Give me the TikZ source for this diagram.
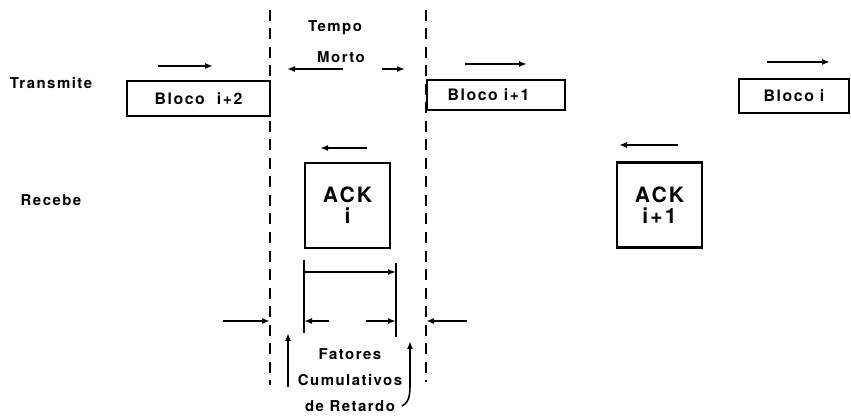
\documentclass[tikz,border=0pt]{standalone}
\usepackage{fontspec}
\setmainfont{TeX Gyre Heros}
\newfontfamily\wide[LetterSpace=10]{TeX Gyre Heros}
\usetikzlibrary{arrows.meta, positioning}

\begin{document}
\begin{tikzpicture}[x=0.2mm, y=-0.2mm,
    block/.style={rectangle, draw, line width=1.4pt, minimum width=#1, minimum height=6.6mm, inner sep=0pt, font=\wide\bfseries\fontsize{9}{11}\selectfont},
    ack/.style={rectangle, draw, line width=1.3pt, minimum size=17mm, align=center, font=\wide\bfseries\fontsize{12}{14}\selectfont},
    tag/.style={inner sep=0pt, font=\wide\bfseries\fontsize{8.5}{10}\selectfont},
    arrow/.style={-{Latex[length=1.6mm, width=1.2mm]}, line width=0.9pt},
    limit/.style={dash pattern=on 2.2mm off 1.5mm, line width=1pt},
    tick/.style={line width=1pt}
]
\useasboundingbox (0,0) rectangle (851,418);

% Dead-time limits
\coordinate (limA top) at (270,10);
\coordinate (limA bot) at (270,385);
\coordinate (limB top) at (426,10);
\coordinate (limB bot) at (426,382);
\draw[limit] (limA top) -- (limA bot);
\draw[limit] (limB top) -- (limB bot);

% Row labels
\node[tag] (tx) at (51,83) {Transmite};
\node[tag] (rx) at (51,200) {Recebe};

% Transmitted blocks
\node[block=28.6mm, minimum height=7mm] (blk2) at (198.5,98.5) {Bloco\ \ i+2};
\node[block=27.6mm, minimum height=6mm] (blk1) at (496,95) {Bloco i+1\hspace*{3mm}};
\node[block=22mm, minimum height=6.8mm] (blk0) at (794,96) {Bloco i};

\coordinate (blk2 s) at (158,66);  \coordinate (blk2 e) at (213,66);
\coordinate (blk1 s) at (465,64);  \coordinate (blk1 e) at (527,64);
\coordinate (blk0 s) at (767,62);  \coordinate (blk0 e) at (830,62);
\draw[arrow] (blk2 s) -- (blk2 e);
\draw[arrow] (blk1 s) -- (blk1 e);
\draw[arrow] (blk0 s) -- (blk0 e);

% Acknowledgements
\node[ack] (ack0) at (347.5,205.5) {ACK\\[-2pt]i};
\node[ack] (ack1) at (659.5,205) {ACK\\[-2pt]i+1};

\coordinate (ack0 s) at (367,148); \coordinate (ack0 e) at (320,148);
\coordinate (ack1 s) at (678,145); \coordinate (ack1 e) at (619,145);
\draw[arrow] (ack0 s) -- (ack0 e);
\draw[arrow] (ack1 s) -- (ack1 e);

% Tempo morto
\node[tag] (tempo) at (335,28) {Tempo};
\node[tag] (morto) at (341,57) {Morto};
\coordinate (dead l) at (343,69); \coordinate (dead le) at (287,69);
\coordinate (dead r) at (382,69); \coordinate (dead re) at (405,69);
\draw[arrow] (dead l) -- (dead le);
\draw[arrow] (dead r) -- (dead re);

% Dimension of the ACK
\coordinate (dimL top) at (304,260); \coordinate (dimL bot) at (304,333);
\coordinate (dimR top) at (396,263); \coordinate (dimR bot) at (396,337);
\draw[tick] (dimL top) -- (dimL bot);
\draw[tick] (dimR top) -- (dimR bot);
\draw[arrow] (304,272) -- (396,272);
\coordinate (inL) at (329,321); \coordinate (inR) at (366,321);
\draw[arrow] (inL) -- (304,321);
\draw[arrow] (inR) -- (396,321);

% Arrows onto the limits
\coordinate (outL) at (223,321); \coordinate (outR) at (467,321);
\draw[arrow] (outL) -- (limA top |- outL);
\draw[arrow] (outR) -- (limB top |- outR);

% Cumulative delay factors
\node[tag, align=center, font=\wide\bfseries\fontsize{8.5}{15}\selectfont] (delay) at (350,380) {Fatores\\Cumulativos\\de Retardo};
\coordinate (upL) at (288,387); \coordinate (upLe) at (288,333);
\draw[arrow] (upL) -- (upLe);
\coordinate (upR) at (402,406); \coordinate (upRe) at (410,341);
\draw[arrow] (upR) .. controls (410,402) and (410,393) .. (410,383) -- (upRe);
\end{tikzpicture}
\end{document}
